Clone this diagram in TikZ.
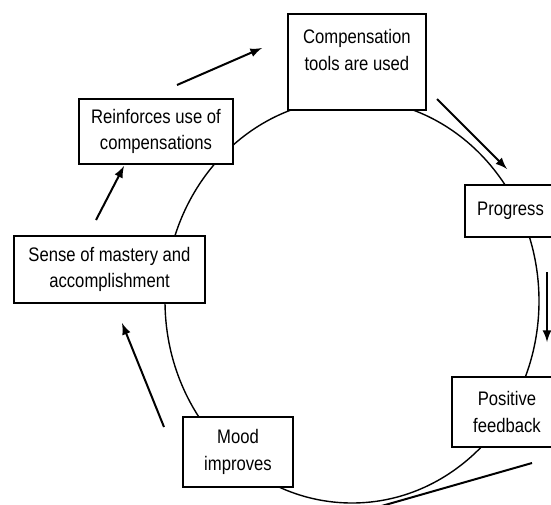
\documentclass[tikz,border=0pt]{standalone}
\usepackage{fontspec}
\setmainfont{Liberation Sans}[FakeStretch=0.85]
\tikzset{
  etape/.style={draw, line width=0.9pt, fill=white, align=center, inner sep=0pt,
    font=\fontsize{9.8}{13.3}\selectfont},
  fleche/.style={line width=1pt, -latex},
}
\begin{document}
\begin{tikzpicture}[x=0.5pt, y=-0.5pt]
                    \useasboundingbox (0,0) rectangle (551,504);
                    % le cercle
                    \draw[line width=0.7pt] (352,301) ellipse [x radius=93.5pt, y radius=101pt];

                    \node[etape, anchor=north west, minimum width=69pt, text height=28.2pt, text depth=19.8pt]
                        (tools) at (287,13) {Compensation\\tools are used};
                    \node[etape, minimum width=77pt, minimum height=32.5pt] (reinf) at (156,131.5) {Reinforces use of\\compensations};
                    \node[etape, minimum width=95.5pt, minimum height=33.5pt] (mastery) at (109.5,269.5) {Sense of mastery and\\accomplishment};
                    \node[etape, minimum width=45.5pt, minimum height=26pt] (progress) at (510.5,211) {Progress};
                    \node[etape, minimum width=55pt, minimum height=35pt] (feedback) at (507,412) {Positive\\feedback};
                    \node[etape, minimum width=55pt, minimum height=35pt] (mood) at (238,452) {Mood\\improves};

                    % les fleches
                    \coordinate (a1) at (177,85);  \coordinate (b1) at (262,48);
                    \coordinate (a2) at (437,99);  \coordinate (b2) at (507,169);
                    \coordinate (a3) at (547,272); \coordinate (b3) at (547,342);
                    \coordinate (a4) at (532,463); \coordinate (b4) at (364,511);
                    \coordinate (a5) at (164,427); \coordinate (b5) at (122,323);
                    \coordinate (a6) at (96,220);  \coordinate (b6) at (124,166);
                    \draw[fleche] (a1) -- (b1);
                    \draw[fleche] (a2) -- (b2);
                    \draw[fleche] (a3) -- (b3);
                    \draw[line width=1pt] (a4) -- (b4);
                    \draw[fleche] (a5) -- (b5);
                    \draw[fleche] (a6) -- (b6);
\end{tikzpicture}
\end{document}
